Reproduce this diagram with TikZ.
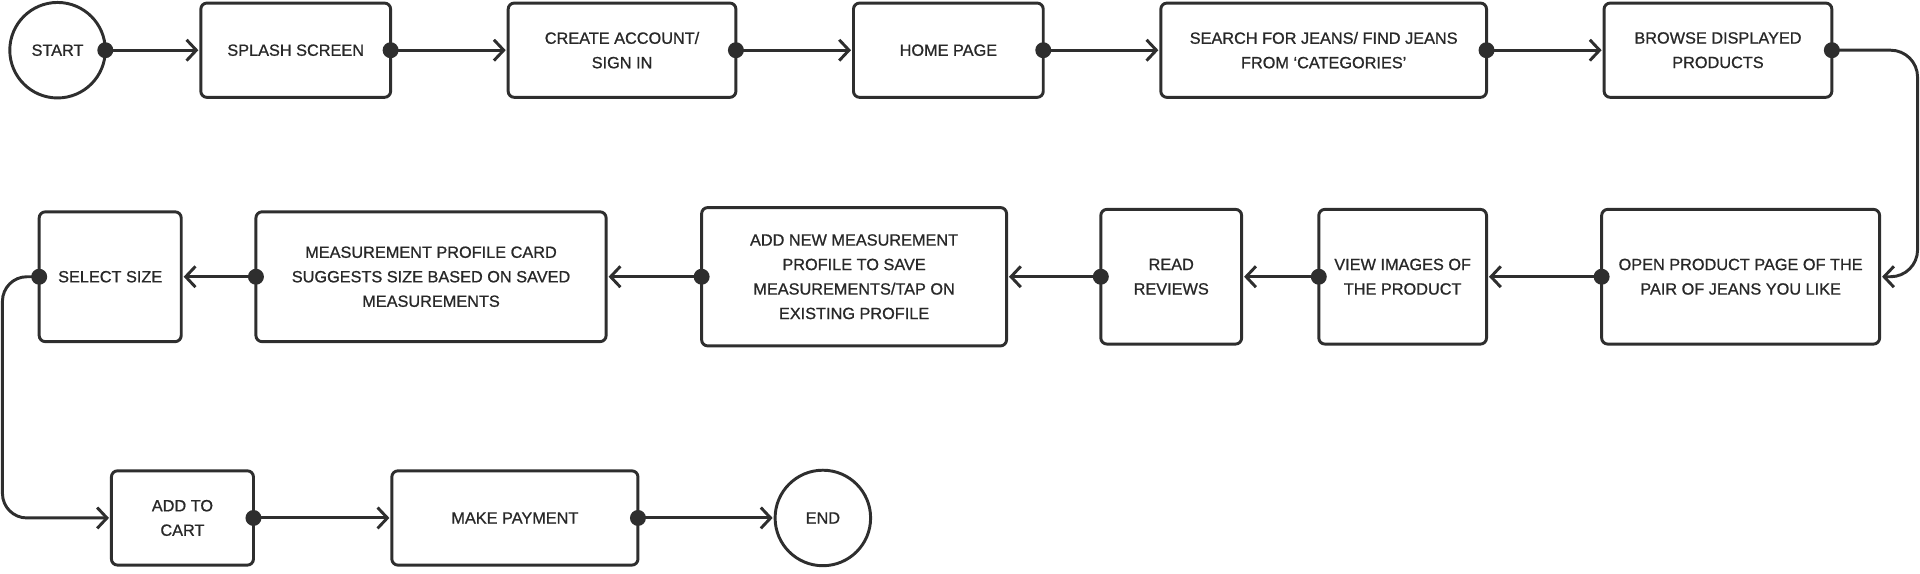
\documentclass[tikz,border=0pt]{standalone}
\usepackage{fontspec}
\setmainfont{Liberation Sans}[BoldFont={Liberation Sans}, BoldFeatures={FakeBold=0.9}]
\usetikzlibrary{arrows.meta, positioning}
\definecolor{ink}{RGB}{46,46,46}
\definecolor{txt}{RGB}{40,40,40}

\begin{document}
\begin{tikzpicture}[
  x=1pt, y=-1pt,
  node distance=96pt,
  every node/.style={font=\fontsize{13.3}{20}\selectfont\bfseries, text=txt},
  box/.style={rectangle, rounded corners=5pt, draw=ink, line width=2.4pt, align=center, inner sep=0pt, outer sep=0pt, minimum height=77pt},
  term/.style={circle, draw=ink, line width=2.4pt, minimum size=78pt, inner sep=0pt, outer sep=0pt},
  arr/.style={{Circle[length=13pt,width=13pt]}-{Straight Barb[length=8pt,width=17pt]}, draw=ink, line width=2.4pt, shorten <=-6.5pt, shorten >=2pt},
]
\useasboundingbox (0,0) rectangle (1568,468);

%% Row 1
\node[term] (start) at (47,41) {START};
\node[box, minimum width=155pt, right=78pt of start] (splash) {SPLASH SCREEN};
\node[box, minimum width=186pt, right=of splash] (account) {CREATE ACCOUNT/\\SIGN IN};
\node[box, minimum width=155pt, right=of account] (home) {HOME PAGE};
\node[box, minimum width=266pt, right=of home] (search) {SEARCH FOR JEANS/ FIND JEANS\\FROM ‘CATEGORIES’};
\node[box, minimum width=186pt, right=of search] (browse) {BROWSE DISPLAYED\\PRODUCTS};

\draw[arr] (start.east)   -- (splash.west);
\draw[arr] (splash.east)  -- (account.west);
\draw[arr] (account.east) -- (home.west);
\draw[arr] (home.east)    -- (search.west);
\draw[arr] (search.east)  -- (browse.west);

%% Row 2 (right to left)
\node[box, minimum width=227pt, minimum height=110pt] (open) at (1421.5,226) {OPEN PRODUCT PAGE OF THE\\PAIR OF JEANS YOU LIKE};
\node[box, minimum width=137pt, minimum height=110pt, left=94pt of open] (images) {VIEW IMAGES OF\\THE PRODUCT};
\node[box, minimum width=115pt, minimum height=110pt, left=63pt of images] (reviews) {READ\\REVIEWS};
\node[box, minimum width=249pt, minimum height=113pt, left=77pt of reviews] (addprofile) {ADD NEW MEASUREMENT\\PROFILE TO SAVE\\MEASUREMENTS/TAP ON\\EXISTING PROFILE};
\node[box, minimum width=286pt, minimum height=106pt, left=78pt of addprofile] (card) {MEASUREMENT PROFILE CARD\\SUGGESTS SIZE BASED ON SAVED\\MEASUREMENTS};
\node[box, minimum width=116pt, minimum height=106pt, left=61pt of card] (size) {SELECT SIZE};

\draw[arr, rounded corners=22pt] (browse.east) -| ([xshift=31pt]open.east) -- (open.east);
\draw[arr] (open.west)       -- (images.east);
\draw[arr] (images.west)     -- (reviews.east);
\draw[arr] (reviews.west)    -- (addprofile.east);
\draw[arr] (addprofile.west) -- (card.east);
\draw[arr] (card.west)       -- (size.east);

%% Row 3
\node[box, minimum width=116pt] (cart) at (149,423) {ADD TO\\CART};
\node[box, minimum width=201pt, right=113pt of cart] (payment) {MAKE PAYMENT};
\node[term, right=112pt of payment] (end) {END};

\draw[arr, rounded corners=20pt] (size.west) -- ([xshift=-30pt]size.west) |- (cart.west);
\draw[arr] (cart.east)    -- (payment.west);
\draw[arr] (payment.east) -- (end.west);

\end{tikzpicture}
\end{document}
